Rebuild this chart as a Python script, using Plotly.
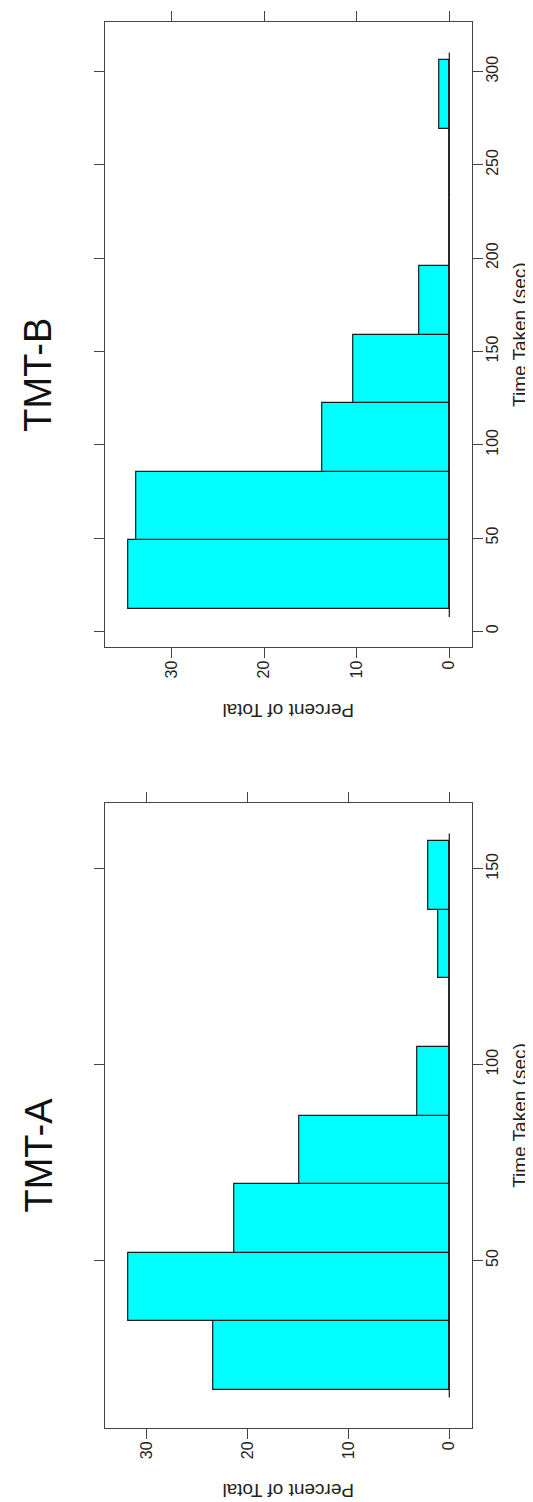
import plotly.graph_objects as go

# ---------------- data ----------------
tmt_a_edges = [17, 34.5, 52, 69.5, 87, 104.5, 122, 139.5, 157]
tmt_a_pct = [23.4, 31.9, 21.3, 14.9, 3.2, 0, 1.1, 2.1]

tmt_b_edges = [12, 48.75, 85.5, 122.25, 159, 195.75, 232.5, 269.25, 306]
tmt_b_pct = [34.7, 33.8, 13.7, 10.4, 3.2, 0, 0, 1.1]

pct_ticks = [0, 10, 20, 30]
tmt_a_time_ticks = [50, 100, 150]
tmt_b_time_ticks = [0, 50, 100, 150, 200, 250, 300]

panel_titles = ["TMT-B", "TMT-A"]
x_title = "Time Taken (sec)"
y_title = "Percent of Total"

# ---------------- layout constants ----------------
W, H = 533, 1502
FONT = "Liberation Sans, Arial, Helvetica, sans-serif"
FILL = "#00FFFF"
EDGE = "#1a1a1a"
FRAME = "#444444"
TXT = "#222222"

# frame pixel boxes (left, right, top, bottom)
px_left, px_right = 97.3, 463.8
panels = [
    dict(top=14.0, bottom=639.3, edges=tmt_b_edges, pct=tmt_b_pct,
         ticks=tmt_b_time_ticks, title=panel_titles[0]),
    dict(top=795.0, bottom=1420.0, edges=tmt_a_edges, pct=tmt_a_pct,
         ticks=tmt_a_time_ticks, title=panel_titles[1]),
]

fig = go.Figure()

for i, p in enumerate(panels):
    sfx = "" if i == 0 else str(i + 1)
    xa, ya = "x" + sfx, "y" + sfx
    edges, pct = p["edges"], p["pct"]
    centers = [(a + b) / 2 for a, b in zip(edges[:-1], edges[1:])]
    widths = [b - a for a, b in zip(edges[:-1], edges[1:])]

    # lattice-style extended ranges (7%)
    t_span = edges[-1] - edges[0]
    t_rng = [edges[0] - 0.07 * t_span, edges[-1] + 0.07 * t_span]
    pmax = max(pct)
    p_rng = [pmax + 0.07 * pmax, -0.07 * pmax]

    fig.add_trace(go.Bar(
        orientation="h", y=centers, x=pct, width=widths, base=0,
        marker=dict(color=FILL, line=dict(color=EDGE, width=1.2)),
        xaxis=xa, yaxis=ya, showlegend=False, hoverinfo="skip",
    ))

    # zero baseline extending a few pixels beyond the bins
    h_px = p["bottom"] - p["top"]
    units_per_px = (t_rng[1] - t_rng[0]) / h_px
    ext = 8 * units_per_px
    fig.add_trace(go.Scatter(
        x=[0, 0], y=[edges[0] - ext, edges[-1] + ext], mode="lines",
        line=dict(color=EDGE, width=1.2), xaxis=xa, yaxis=ya,
        showlegend=False, hoverinfo="skip",
    ))

    ydom = [(H - p["bottom"]) / H, (H - p["top"]) / H]
    xdom = [px_left / W, px_right / W]

    fig.layout["xaxis" + sfx] = dict(
        domain=xdom, anchor=ya, range=p_rng, side="bottom",
        tickvals=pct_ticks, tickangle=-90, ticks="outside", ticklen=10,
        tickcolor=FRAME, tickwidth=1, showline=True, linecolor=FRAME,
        linewidth=1, mirror="ticks", showgrid=False, zeroline=False,
        tickfont=dict(family=FONT, size=16, color=TXT),
        ticklabelstandoff=-4,
    )
    fig.layout["yaxis" + sfx] = dict(
        domain=ydom, anchor=xa, range=t_rng, side="right",
        tickvals=p["ticks"], tickangle=-90, ticks="outside", ticklen=10,
        tickcolor=FRAME, tickwidth=1, showline=True, linecolor=FRAME,
        linewidth=1, mirror="ticks", showgrid=False, zeroline=False,
        tickfont=dict(family=FONT, size=16, color=TXT),
        ticklabelstandoff=-4,
        title=dict(text=x_title, standoff=12,
                   font=dict(family=FONT, size=19, color=TXT)),
        automargin=False,
    )

    # percent axis title (below, upside down)
    fig.add_annotation(
        text=y_title, xref="paper", yref="paper",
        x=(px_left + px_right) / 2 / W, y=(H - (p["bottom"] + 63)) / H,
        textangle=180, showarrow=False, xanchor="center", yanchor="middle",
        font=dict(family=FONT, size=19, color=TXT),
    )
    # panel title (left side, reading upward)
    fig.add_annotation(
        text=p["title"], xref="paper", yref="paper", x=30 / W,
        y=(H - (p["top"] + p["bottom"]) / 2 - 40) / H,
        textangle=-90, showarrow=False, xanchor="center", yanchor="middle",
        font=dict(family=FONT, size=38, color="#111111"),
    )

fig.update_layout(
    width=W, height=H, margin=dict(l=0, r=0, t=0, b=0),
    paper_bgcolor="white", plot_bgcolor="white", bargap=0,
)

fig.write_html("out.html")
